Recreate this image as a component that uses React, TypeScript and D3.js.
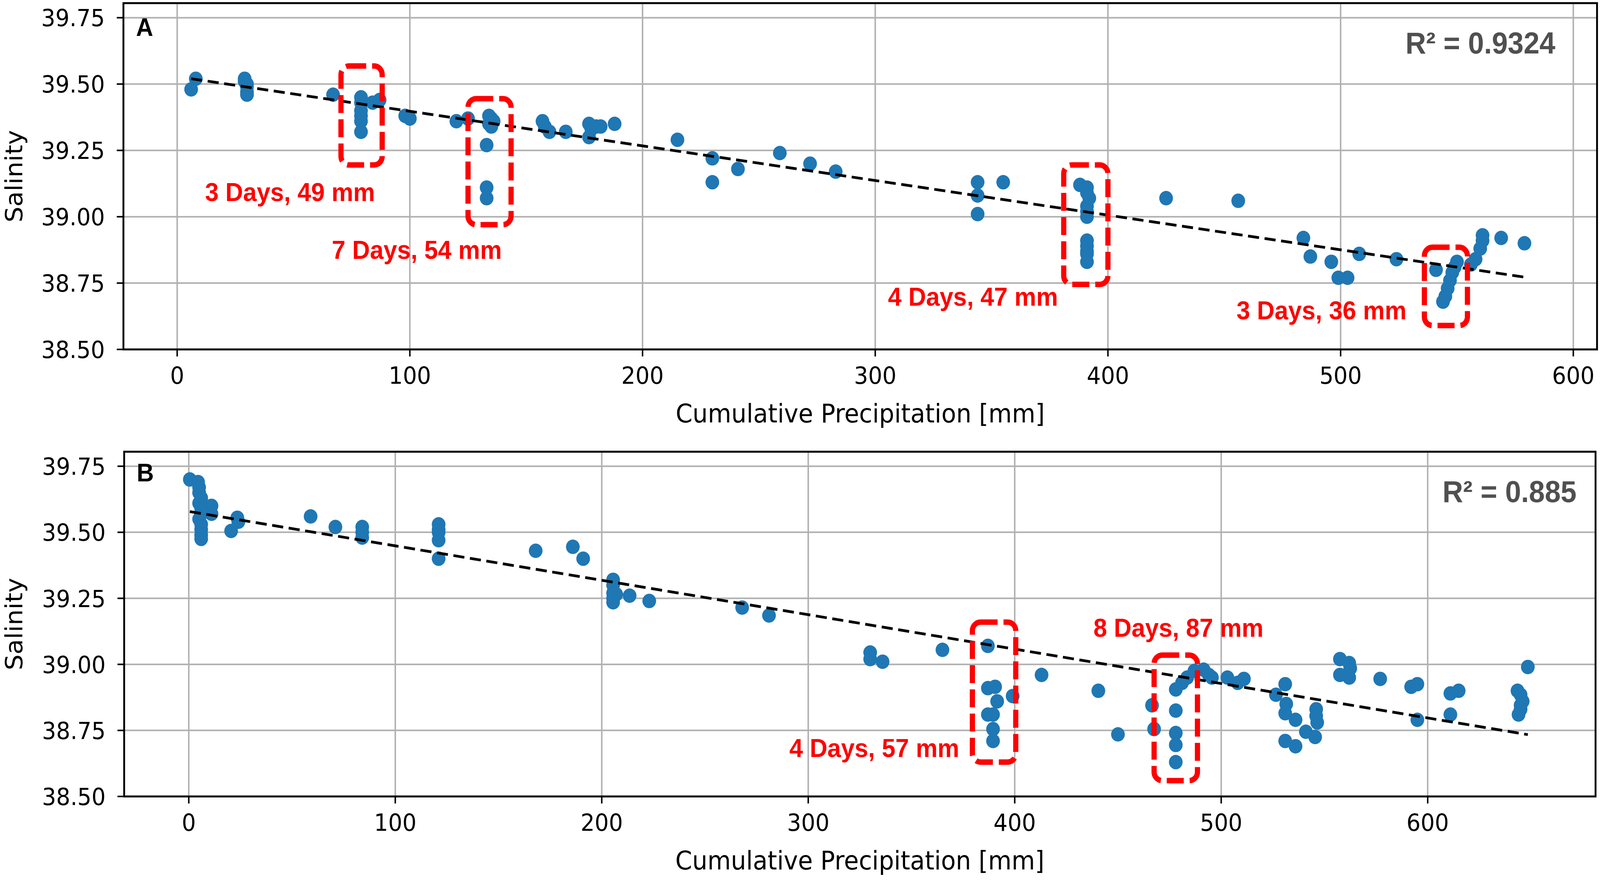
import * as d3 from 'd3';

// canvas
const W = 4317;
const H = 2254;

// axis ticks (shared by both panels)
const xTicks = [0, 100, 200, 300, 400, 500, 600];
const yTicks = [38.5, 38.75, 39.0, 39.25, 39.5, 39.75];
const yDomain: [number, number] = [38.5, 39.805];

// Panel A: cumulative precipitation [mm] vs salinity
const pointsA: [number, number][] = [
  [6, 39.48], [8, 39.52],
  [29, 39.52], [29, 39.51], [30, 39.5], [30, 39.49], [30, 39.47], [30, 39.46],
  [67, 39.46],
  [79, 39.45], [79, 39.43], [79, 39.4], [79, 39.38], [79, 39.36], [79, 39.32],
  [84, 39.43], [87, 39.44],
  [98, 39.38], [100, 39.37],
  [120, 39.36], [125, 39.37],
  [134, 39.38], [135, 39.37], [136, 39.36], [134, 39.35], [135, 39.34], [133, 39.27], [133, 39.11], [133, 39.07],
  [157, 39.36], [158, 39.34], [160, 39.32],
  [167, 39.32],
  [177, 39.35], [178, 39.34], [178, 39.33], [177, 39.3], [180, 39.34], [182, 39.34],
  [188, 39.35],
  [215, 39.29],
  [230, 39.22], [230, 39.13],
  [241, 39.18],
  [259, 39.24],
  [272, 39.2],
  [283, 39.17],
  [344, 39.13], [344, 39.08], [344, 39.01],
  [355, 39.13],
  [388, 39.12], [391, 39.11], [391, 39.09], [392, 39.07], [391, 39.04], [391, 39.02], [391, 39.0],
  [391, 38.91], [391, 38.89], [391, 38.87], [391, 38.86], [391, 38.83],
  [425, 39.07],
  [456, 39.06],
  [484, 38.92],
  [487, 38.85],
  [496, 38.83],
  [499, 38.77], [503, 38.77],
  [508, 38.86],
  [524, 38.84],
  [541, 38.8],
  [550, 38.83], [549, 38.81], [548, 38.79], [547, 38.76], [546, 38.73], [545, 38.7], [544, 38.68],
  [556, 38.82], [558, 38.84], [560, 38.88], [561, 38.91], [561, 38.93],
  [569, 38.92],
  [579, 38.9],
];

// Panel B
const pointsB: [number, number][] = [
  [0.5, 39.7], [4.5, 39.69],
  [5, 39.67], [5, 39.65], [6, 39.63], [5, 39.61], [6, 39.59], [6, 39.57], [5, 39.55], [6, 39.53], [6, 39.51], [6, 39.49], [6, 39.475],
  [11, 39.6], [11, 39.57],
  [20.5, 39.505], [23.5, 39.555], [24, 39.54],
  [59, 39.56],
  [71, 39.52],
  [84, 39.52], [84, 39.5], [84, 39.48],
  [121, 39.53], [121, 39.51], [121, 39.5], [121, 39.47], [121, 39.4],
  [168, 39.43],
  [186, 39.445],
  [191, 39.4],
  [205.5, 39.32], [205.5, 39.3], [205.5, 39.27], [205.5, 39.25], [205.5, 39.235], [207, 39.265],
  [213.5, 39.26],
  [223, 39.24],
  [268, 39.215],
  [281, 39.185],
  [330, 39.045], [330, 39.02],
  [336, 39.01],
  [365, 39.055],
  [387, 39.07],
  [387, 38.91], [390.5, 38.915],
  [391.5, 38.86],
  [387, 38.81], [389.5, 38.81],
  [389.5, 38.755],
  [389.5, 38.71],
  [399, 38.88],
  [413, 38.96],
  [440.5, 38.9],
  [450, 38.735],
  [466.5, 38.845],
  [467.5, 38.755],
  [478, 38.905], [478, 38.825], [478, 38.74], [478, 38.695], [478, 38.63],
  [481, 38.93], [483.5, 38.95],
  [487, 38.975], [491.5, 38.98], [494, 38.96], [495.5, 38.95],
  [503, 38.95],
  [508, 38.93], [511, 38.945],
  [531, 38.925], [526.5, 38.885], [531.5, 38.85], [531, 38.815], [536, 38.79], [531, 38.71], [536, 38.69],
  [546, 38.83], [546, 38.805], [546.5, 38.78], [541, 38.745], [545.5, 38.725],
  [557.5, 39.02], [562, 39.005], [562.5, 38.985], [557.5, 38.96], [562, 38.95],
  [577, 38.945],
  [592, 38.915], [595, 38.925],
  [595, 38.79],
  [611, 38.89], [615, 38.9],
  [611, 38.81],
  [643.5, 38.9], [645, 38.885], [646, 38.86], [645, 38.845], [645, 38.83], [644, 38.81],
  [648.5, 38.99],
];

// linear fits: [intercept, slope]
const fitA = [39.528, -0.001305];
const fitB = [39.579, -0.001303];

const r2A = 'R² = 0.9324';
const r2B = 'R² = 0.885';

// highlighted events, in data units
interface Event {
  label: string;
  x: [number, number];
  y: [number, number];
  at: [number, number];
}

const eventsA: Event[] = [
  { label: '3 Days, 49 mm', x: [70.4, 88.1], y: [39.195, 39.568], at: [48.5, 39.059] },
  { label: '7 Days, 54 mm', x: [125, 143.5], y: [38.97, 39.445], at: [103, 38.841] },
  { label: '4 Days, 47 mm', x: [381, 400], y: [38.745, 39.195], at: [342, 38.665] },
  { label: '3 Days, 36 mm', x: [536, 554.5], y: [38.59, 38.885], at: [491.8, 38.614] },
];

const eventsB: Event[] = [
  { label: '4 Days, 57 mm', x: [379.5, 400.5], y: [38.63, 39.16], at: [332, 38.649] },
  { label: '8 Days, 87 mm', x: [467.5, 488.5], y: [38.56, 39.035], at: [479.3, 39.104] },
];

const FONT = "'DejaVu Sans', sans-serif";
const BOLD = "'Liberation Sans', Arial, sans-serif";
const fmt = d3.format('.2f');

interface PanelProps {
  frame: { left: number; right: number; top: number; bottom: number };
  xDomain: [number, number];
  points: [number, number][];
  fit: number[];
  events: Event[];
  r2: string;
  r2Left: number;
  letter: string;
  letterDy: number;
}

const Panel = ({ frame, xDomain, points, fit, events, r2, r2Left, letter, letterDy }: PanelProps) => {
  const x = d3.scaleLinear().domain(xDomain).range([frame.left, frame.right]);
  const y = d3.scaleLinear().domain(yDomain).range([frame.bottom, frame.top]);
  const ext = d3.extent(points, d => d[0]) as [number, number];
  const line = d3.line<number>()
    .x(d => x(d))
    .y(d => y(fit[0] + fit[1] * d));
  const midY = (frame.top + frame.bottom) / 2;
  const midX = (frame.left + frame.right) / 2;

  return (
    <g>
      {/* grid */}
      {xTicks.map(t => (
        <line key={'gx' + t} x1={x(t)} x2={x(t)} y1={frame.top} y2={frame.bottom} stroke="#b0b0b0" strokeWidth={4} />
      ))}
      {yTicks.map(t => (
        <line key={'gy' + t} x1={frame.left} x2={frame.right} y1={y(t)} y2={y(t)} stroke="#b0b0b0" strokeWidth={4} />
      ))}

      {/* scatter */}
      {points.map((d, i) => (
        <circle key={i} cx={x(d[0])} cy={y(d[1])} r={18.5} fill="#1f77b4" />
      ))}

      {/* regression line */}
      <path d={line(ext) ?? ''} fill="none" stroke="#000" strokeWidth={7} strokeDasharray="30 15" />

      {/* event boxes + labels */}
      {events.map(e => (
        <g key={e.label}>
          <rect
            x={x(e.x[0])}
            y={y(e.y[1])}
            width={x(e.x[1]) - x(e.x[0])}
            height={y(e.y[0]) - y(e.y[1])}
            rx={22}
            fill="none"
            stroke="#ff0000"
            strokeWidth={14}
            strokeDasharray="46 16"
          />
          <text x={x(e.at[0])} y={y(e.at[1])} textAnchor="middle" fontFamily={BOLD} fontWeight="bold" fontSize={66} fill="#ff0000">
            {e.label}
          </text>
        </g>
      ))}

      {/* frame */}
      <rect x={frame.left} y={frame.top} width={frame.right - frame.left} height={frame.bottom - frame.top} fill="none" stroke="#000" strokeWidth={5} />

      {/* x axis */}
      {xTicks.map(t => (
        <g key={'tx' + t}>
          <line x1={x(t)} x2={x(t)} y1={frame.bottom} y2={frame.bottom + 18} stroke="#000" strokeWidth={4} />
          <text x={x(t)} y={frame.bottom + 88} textAnchor="middle" fontFamily={FONT} fontSize={60} fill="#000">{t}</text>
        </g>
      ))}
      <text x={midX} y={frame.bottom + 187} textAnchor="middle" fontFamily={FONT} fontSize={65} fill="#000">
        Cumulative Precipitation [mm]
      </text>

      {/* y axis */}
      {yTicks.map(t => (
        <g key={'ty' + t}>
          <line x1={frame.left - 18} x2={frame.left} y1={y(t)} y2={y(t)} stroke="#000" strokeWidth={4} />
          <text x={frame.left - 50} y={y(t) + 22} textAnchor="end" fontFamily={FONT} fontSize={60} fill="#000">{fmt(t)}</text>
        </g>
      ))}
      <text transform={`translate(60,${midY}) rotate(-90)`} textAnchor="middle" fontFamily={FONT} fontSize={64} fill="#000">
        Salinity
      </text>

      {/* panel letter and R² */}
      <text x={frame.left + 34} y={frame.top + letterDy} fontFamily={BOLD} fontWeight="bold" fontSize={64} fill="#000">{letter}</text>
      <text
        x={frame.left + r2Left * (frame.right - frame.left)}
        y={frame.top + 129}
        fontFamily={BOLD}
        fontWeight="bold"
        fontSize={77}
        fill="#505050"
      >
        {r2}
      </text>
    </g>
  );
};

export default function App() {
  // scale the fixed 4317x2254 drawing to whatever the viewport really is
  return (
    <svg
      viewBox={`0 0 ${W} ${H}`}
      preserveAspectRatio="none"
      style={{ position: 'fixed', left: 0, top: 0, width: '100vw', height: '100vh', background: '#fff' }}
    >
      <rect width={W} height={H} fill="#fff" />
      <Panel
        frame={{ left: 333, right: 4309, top: 8, bottom: 895 }}
        xDomain={[-23.1, 610.2]}
        points={pointsA}
        fit={fitA}
        events={eventsA}
        r2={r2A}
        r2Left={0.87}
        letter="A"
        letterDy={84}
      />
      <Panel
        frame={{ left: 335, right: 4305, top: 1157, bottom: 2040 }}
        xDomain={[-31.3, 681.3]}
        points={pointsB}
        fit={fitB}
        events={eventsB}
        r2={r2B}
        r2Left={0.896}
        letter="B"
        letterDy={76}
      />
    </svg>
  );
}
